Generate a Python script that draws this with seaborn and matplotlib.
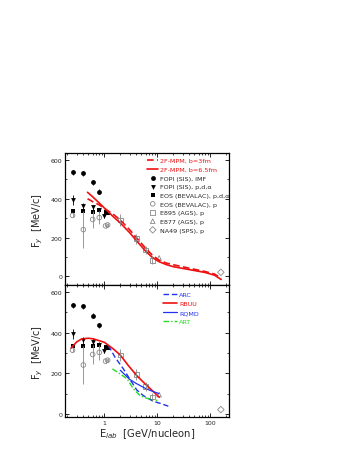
import numpy as np
import pandas as pd
import matplotlib
matplotlib.use('Agg')
import matplotlib.pyplot as plt
from matplotlib.ticker import MultipleLocator, LogLocator, NullFormatter, FixedLocator, FixedFormatter
import seaborn as sns

# Dados experimentais (E_lab em GeV/nucleon, F_y em MeV/c)
fopi_imf_e = [0.25, 0.4, 0.6, 0.8]
fopi_imf_f = [536, 531, 485, 436]
fopi_imf_err = [12, 12, 14, 12]

fopi_pda_e = [0.25, 0.4, 0.6, 0.8, 1.0]
fopi_pda_f = [394, 362, 355, 341, 312]
fopi_pda_err = [25, 15, 15, 12, 12]

eos_pda_e = [0.25, 0.4, 0.6, 0.8, 1.05, 1.15]
eos_pda_f = [336, 336, 333, 341, 330, 326]

eos_p_e = [0.25, 0.4, 0.6, 0.8, 1.05, 1.15]
eos_p_f = [314, 241, 293, 303, 260, 265]
eos_p_err = [10, 95, 45, 35, 10, 10]

e895_e = [2.0, 4.0, 6.0, 8.0]
e895_f = [290, 194, 135, 83]
e895_err = [30, 25, 22, 20]

e877_e = [10.8]
e877_f = [95]

na49_e = [158]
na49_f = [21]

# Modelos - painel superior (2F-MPM)
mpm_e = [0.48, 0.6, 0.8, 1.0, 1.5, 2, 3, 4, 6, 8, 10.7, 15, 20, 40, 80, 120, 160]
mpm3_f = [400, 385, 368, 350, 318, 290, 240, 200, 145, 110, 84, 68, 60, 42, 25, 12, -10]
mpm65_f = [433, 410, 378, 352, 305, 275, 225, 185, 130, 98, 76, 60, 50, 35, 20, 6, -16]

# Modelos - painel inferior
arc_e = [1.19, 1.59, 2.28, 3.29, 4.08, 5.45, 8.4, 11.3, 16.1]
arc_f = [337, 279, 222, 156, 118, 90, 62, 52, 38]

rbuu_e = [0.235, 0.3, 0.375, 0.5, 0.62, 1.0, 1.48, 1.98, 2.84, 4.08, 6.3, 8.4, 10.9]
rbuu_f = [325, 355, 370, 373, 370, 353, 320, 291, 238, 189, 140, 110, 82]

rqmd_e = [2.0, 3.0, 4.0, 6.0, 8.0, 10.7]
rqmd_f = [215, 170, 150, 125, 112, 100]

art_e = [1.42, 1.98, 2.68, 3.53, 4.7, 6.3, 10.0]
art_f = [222, 197, 173, 123, 90, 77, 66]

sns.set_style('ticks')
plt.rcParams['font.family'] = ['DejaVu Sans']
plt.rcParams['xtick.direction'] = 'in'
plt.rcParams['ytick.direction'] = 'in'
plt.rcParams['xtick.top'] = True
plt.rcParams['ytick.right'] = True
plt.rcParams['axes.linewidth'] = 0.9
plt.rcParams['axes.edgecolor'] = 'black'

RED = '#ee1111'
BLUE = '#2233ee'
GREEN = '#22dd22'
GREY = '#888888'

fig = plt.figure(figsize=(3.55, 4.6), dpi=100)
ax1 = fig.add_axes([0.183, 0.378, 0.462, 0.287])
ax2 = fig.add_axes([0.183, 0.091, 0.462, 0.287])

def dados(ax):
    ax.errorbar(fopi_imf_e, fopi_imf_f, yerr=fopi_imf_err, fmt='none', ecolor='black', elinewidth=0.6)
    ax.errorbar(fopi_pda_e, fopi_pda_f, yerr=fopi_pda_err, fmt='none', ecolor='black', elinewidth=0.6)
    ax.errorbar(eos_p_e, eos_p_f, yerr=eos_p_err, fmt='none', ecolor=GREY, elinewidth=0.6)
    ax.errorbar(e895_e, e895_f, yerr=e895_err, fmt='none', ecolor=GREY, elinewidth=0.6)
    sns.scatterplot(x=fopi_imf_e, y=fopi_imf_f, marker='o', color='black', s=12, linewidth=0,
                    ax=ax, label='FOPI (SIS), IMF')
    sns.scatterplot(x=fopi_pda_e, y=fopi_pda_f, marker='v', color='black', s=12, linewidth=0,
                    ax=ax, label='FOPI (SIS), p,d,α')
    sns.scatterplot(x=eos_pda_e, y=eos_pda_f, marker='s', color='black', s=12, linewidth=0,
                    ax=ax, label='EOS (BEVALAC), p,d,α')
    sns.scatterplot(x=eos_p_e, y=eos_p_f, marker='o', facecolor='none', edgecolor=GREY, s=11,
                    linewidth=0.6, ax=ax, label='EOS (BEVALAC), p')
    sns.scatterplot(x=e895_e, y=e895_f, marker='s', facecolor='none', edgecolor=GREY, s=11,
                    linewidth=0.6, ax=ax, label='E895 (AGS), p')
    sns.scatterplot(x=e877_e, y=e877_f, marker='^', facecolor='none', edgecolor=GREY, s=11,
                    linewidth=0.6, ax=ax, label='E877 (AGS), p')
    sns.scatterplot(x=na49_e, y=na49_f, marker='D', facecolor='none', edgecolor=GREY, s=11,
                    linewidth=0.6, ax=ax, label='NA49 (SPS), p')

# Painel superior
sns.lineplot(x=mpm_e, y=mpm3_f, color=RED, linestyle=(0, (4, 2)), linewidth=1.2, ax=ax1,
             label='2F-MPM, b=3fm', sort=False)
sns.lineplot(x=mpm_e, y=mpm65_f, color=RED, linestyle='-', linewidth=1.2, ax=ax1,
             label='2F-MPM, b=6.5fm', sort=False)
dados(ax1)

# Painel inferior
sns.lineplot(x=arc_e, y=arc_f, color=BLUE, linestyle=(0, (4, 2)), linewidth=1.0, ax=ax2,
             label='ARC', sort=False)
sns.lineplot(x=rbuu_e, y=rbuu_f, color=RED, linestyle='-', linewidth=1.2, ax=ax2,
             label='RBUU', sort=False)
sns.lineplot(x=rqmd_e, y=rqmd_f, color=BLUE, linestyle='-', linewidth=0.9, ax=ax2,
             label='RQMD', sort=False)
sns.lineplot(x=art_e, y=art_f, color=GREEN, linestyle=(0, (4, 1.5, 1, 1.5)), linewidth=1.0, ax=ax2,
             label='ART', sort=False)
dados(ax2)

for ax in (ax1, ax2):
    ax.set_xscale('log')
    ax.set_xlim(0.18, 225)
    ax.yaxis.set_major_locator(MultipleLocator(200))
    ax.yaxis.set_minor_locator(MultipleLocator(100))
    ax.xaxis.set_major_locator(FixedLocator([1, 10, 100]))
    ax.xaxis.set_major_formatter(FixedFormatter(['1', '10', '100']))
    ax.xaxis.set_minor_locator(LogLocator(base=10, subs=np.arange(2, 10)))
    ax.xaxis.set_minor_formatter(NullFormatter())
    ax.tick_params(which='major', length=3, width=0.7, labelsize=4.5, pad=2)
    ax.tick_params(which='minor', length=1.6, width=0.6)
    ax.set_ylabel('F$_y$  [MeV/c]', fontsize=7, labelpad=4)

ax1.set_ylim(-45, 635)
ax2.set_ylim(-16, 635)
ax1.tick_params(axis='x', labelbottom=False)
ax2.set_xlabel('E$_{lab}$  [GeV/nucleon]', fontsize=7.2, labelpad=1)

# Legendas
leg1 = ax1.legend(loc='upper left', bbox_to_anchor=(0.5, 0.965), frameon=False, fontsize=4.6,
                  handlelength=1.8, handletextpad=0.3, labelspacing=0.5, borderaxespad=0,
                  borderpad=0)
for t in leg1.get_texts()[:2]:
    t.set_color(RED)

leg2 = ax2.legend(handles=ax2.get_lines()[:4], labels=['ARC', 'RBUU', 'RQMD', 'ART'],
                  loc='upper left', bbox_to_anchor=(0.6, 0.95), frameon=False, fontsize=4.6,
                  handlelength=2.2, handletextpad=0.3, labelspacing=0.55, borderaxespad=0,
                  borderpad=0)
for t, c in zip(leg2.get_texts(), [BLUE, RED, BLUE, GREEN]):
    t.set_color(c)

plt.savefig('out.png', dpi=100)
